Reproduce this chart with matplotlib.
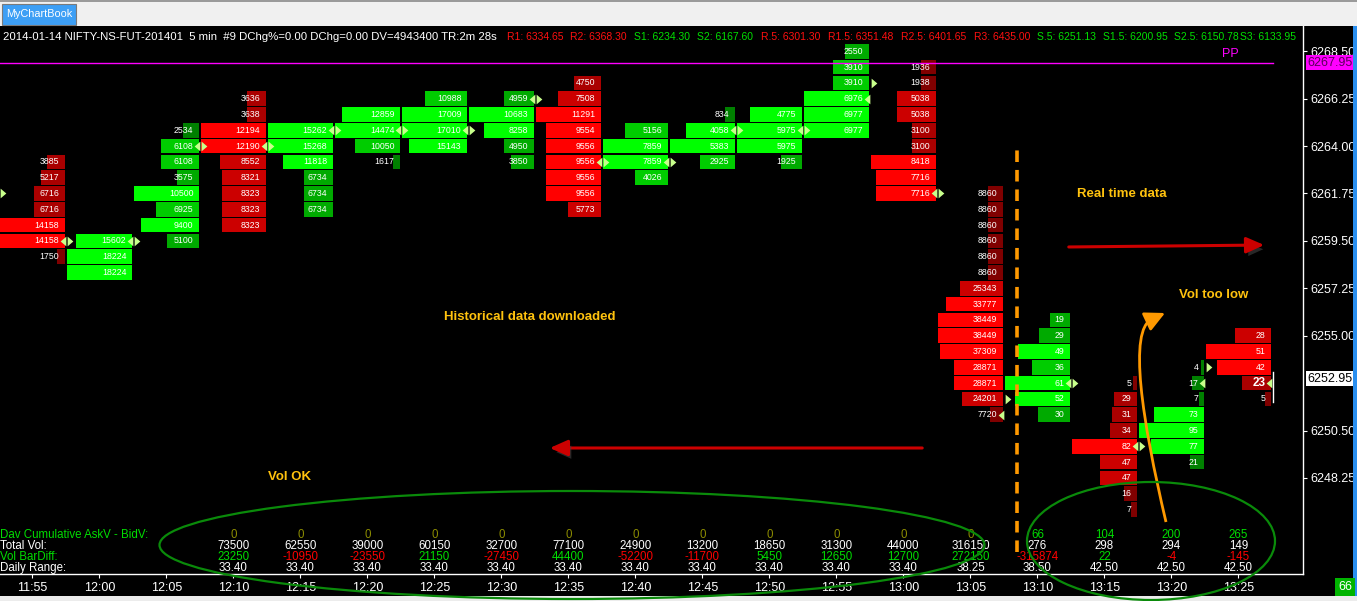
import matplotlib
matplotlib.use('Agg')
import matplotlib.pyplot as plt
import matplotlib.transforms as mtransforms
import matplotlib.patheffects as pe
from matplotlib.patches import Rectangle, Ellipse, FancyArrowPatch, PathPatch
from matplotlib.path import Path

W, H = 1357, 601
plt.rcParams['font.family'] = ['Liberation Sans', 'DejaVu Sans']

# ---- data -------------------------------------------------------------
times = ['11:55', '12:00', '12:05', '12:10', '12:15', '12:20', '12:25', '12:30',
         '12:35', '12:40', '12:45', '12:50', '12:55', '13:00', '13:05', '13:10',
         '13:15', '13:20', '13:25']
tick = 0.75  # price height of one footprint row

# price of the top row of each 5 min bar, volumes listed top to bottom
col_top = [6263.25, 6259.50, 6264.75, 6266.25, 6264.75, 6265.50, 6266.25, 6266.25,
           6267.00, 6264.75, 6265.50, 6265.50, 6268.50, 6267.75, 6261.75, 6255.75,
           6252.75, 6253.50, 6255.00]
col_vols = [
    [3885, 5217, 6716, 6716, 14158, 14158, 1750],
    [15602, 18224, 18224],
    [2534, 6108, 6108, 3575, 10500, 6925, 9400, 5100],
    [3636, 3638, 12194, 12190, 8552, 8321, 8323, 8323, 8323],
    [15262, 15268, 11818, 6734, 6734, 6734],
    [12859, 14474, 10050, 1617],
    [10988, 17009, 17010, 15143],
    [4959, 10683, 8258, 4950, 3850],
    [4750, 7508, 11291, 9554, 9556, 9556, 9556, 9556, 5773],
    [5156, 7859, 7859, 4026],
    [834, 4058, 5383, 2925],
    [4775, 5975, 5975, 1925],
    [2550, 3910, 3910, 6976, 6977, 6977],
    [1936, 1938, 5038, 5038, 3100, 3100, 8418, 7716, 7716],
    [8860, 8860, 8860, 8860, 8860, 8860, 25343, 33777, 38449, 38449, 37309,
     28871, 28871, 24201, 7720],
    [19, 29, 49, 36, 61, 52, 30],
    [5, 29, 31, 34, 82, 47, 47, 16, 7],
    [4, 17, 7, 73, 95, 77, 21],
    [28, 51, 42, 23, 5],
]
col_side = ['bid', 'ask', 'ask', 'bid', 'ask', 'ask', 'ask', 'ask', 'bid', 'ask',
            'ask', 'ask', 'ask', 'bid', 'bid', 'ask', 'bid', 'ask', 'bid']
open_px = [6261.75, 6259.50, 6259.50, 6264.00, 6264.00, 6264.75, 6264.75, 6264.75,
           6266.25, 6263.25, 6263.25, 6264.75, 6264.75, 6267.00, 6261.75, 6252.00,
           6252.75, 6249.75, 6253.50]
close_px = [6259.50, 6259.50, 6264.00, 6264.00, 6264.75, 6264.75, 6264.75, 6266.25,
            6263.25, 6263.25, 6264.75, 6264.75, 6266.25, 6261.75, 6251.25, 6252.75,
            6249.75, 6252.75, 6252.75]

pp = 6267.95
last_price = 6252.95
yticks = [6268.50, 6266.25, 6264.00, 6261.75, 6259.50, 6257.25, 6255.00, 6250.50, 6248.25]

# bottom table (bars 12:10 .. 13:25)
table_start = 3
dav_cum = [0, 0, 0, 0, 0, 0, 0, 0, 0, 0, 0, 0, 66, 104, 200, 265]
total_vol = [73500, 62550, 39000, 60150, 32700, 77100, 24900, 13200, 18650, 31300,
             44000, 316150, 276, 298, 294, 149]
bar_diff = [23250, -10950, -23550, 21150, -27450, 44400, -52200, -11700, 5450, 12650,
            12700, 272150, -315874, 22, -4, -145]
daily_range = ['33.40', '33.40', '33.40', '33.40', '33.40', '33.40', '33.40', '33.40',
               '33.40', '33.40', '33.40', '38.25', '38.50', '42.50', '42.50', '42.50']

header = '2014-01-14 NIFTY-NS-FUT-201401  5 min  #9 DChg%=0.00 DChg=0.00 DV=4943400 TR:2m 28s'
pivots = [('R1: 6334.65', 507), ('R2: 6368.30', 570), ('S1: 6234.30', 634),
          ('S2: 6167.60', 697), ('R.5: 6301.30', 761), ('R1.5: 6351.48', 828),
          ('R2.5: 6401.65', 901), ('R3: 6435.00', 974), ('S.5: 6251.13', 1037),
          ('S1.5: 6200.95', 1103), ('S2.5: 6150.78', 1174), ('S3: 6133.95', 1240)]

RED = ['#800000', '#aa0000', '#cc0000', '#ff0000']
GREEN = ['#008000', '#00aa00', '#00cc00', '#00ff00']


def shade(ratio, side):
    pal = RED if side == 'bid' else GREEN
    if ratio >= 0.72:
        return pal[3]
    if ratio >= 0.5:
        return pal[2]
    if ratio >= 0.25:
        return pal[1]
    return pal[0]


def fp(px, py):
    # pixel position -> figure fraction
    return px / W, 1 - py / H


# ---- figure -----------------------------------------------------------
fig = plt.figure(figsize=(W / 100, H / 100), dpi=100, facecolor='black')
ax = fig.add_axes([0, (H - 574) / H, 1303 / W, (574 - 26) / H])
ax.set_facecolor('black')
ax.set_xlim(0, 1303 / 67)
ax.set_ylim(6243.69, 6269.70)

R = 65 / 67  # right edge of a bar inside its slot
for c, vols in enumerate(col_vols):
    vmax = max(vols)
    prices = [col_top[c] - tick * i for i in range(len(vols))]
    widths = [v / vmax * R for v in vols]
    colors = [shade(v / vmax, col_side[c]) for v in vols]
    ax.barh(prices, widths, left=[c + R - w for w in widths], height=0.69,
            color=colors, linewidth=0)
    for p, v in zip(prices, vols):
        last = (c == len(col_vols) - 1 and p == close_px[c])
        ax.text(c + R - 0.085, p, str(v), ha='right', va='center', color='white',
                fontsize=8.5 if last else 6.3, fontweight='bold' if last else 'normal')
    ax.plot(c + R - 0.035, close_px[c], marker=[(1, 1.7), (1, -1.7), (-1, 0)],
            ms=7, color='#c8ff8c', mew=0)
    ax.plot(c + 0.045, open_px[c], marker=[(-1, 1.7), (-1, -1.7), (1, 0)],
            ms=7, color='#c8ff8c', mew=0)

# current bar marker
nlast = len(col_vols) - 1
ax.plot([nlast + 1.0, nlast + 1.0], [last_price - 1.1, last_price + 0.35],
        color='white', lw=1)

# PP line
ax.axhline(pp, xmin=0, xmax=1273 / 1303, color='#ff00ff', lw=1)
ax.text(1230 / 67, pp + 0.42, 'PP', color='#ff00ff', fontsize=9, ha='center', va='center')

# realtime separator
ax.axvline(1017 / 67, ymin=0.04, ymax=0.774, color='#ff9900', lw=2.6,
           linestyle=(0, (3.2, 2.2)))

# axes styling
for s in ['top', 'left']:
    ax.spines[s].set_visible(False)
for s in ['right', 'bottom']:
    ax.spines[s].set_color('white')
    ax.spines[s].set_linewidth(1)
ax.yaxis.tick_right()
ax.set_yticks(yticks)
ax.set_yticklabels(['%.2f' % t for t in yticks])
ax.set_xticks([c + 0.485 for c in range(len(times))])
ax.set_xticklabels(times)
ax.tick_params(axis='y', colors='white', length=3, pad=2, labelsize=9)
ax.tick_params(axis='x', colors='white', length=3, pad=3, labelsize=9)

ybox = mtransforms.blended_transform_factory(ax.transAxes, ax.transData)
ax.text(1.0035, pp, '%.2f' % pp, transform=ybox, ha='left', va='center', fontsize=9,
        color='#5a005a', bbox=dict(boxstyle='square,pad=0.12', fc='#ff00ff', ec='none'))
ax.text(1.0035, last_price, '%.2f' % last_price, transform=ybox, ha='left', va='center',
        fontsize=9, color='black',
        bbox=dict(boxstyle='square,pad=0.12', fc='white', ec='none'))

# bottom table
tb = mtransforms.blended_transform_factory(ax.transData, ax.transAxes)
rows_y = [0.0712, 0.0511, 0.0305, 0.0104]
labels = [('Dav Cumulative AskV - BidV:', '#00dd00'), ('Total Vol:', 'white'),
          ('Vol BarDiff:', '#00dd00'), ('Daily Range:', 'white')]
for (txt, col), y in zip(labels, rows_y):
    ax.text(0.0, y, txt, transform=ax.transAxes, ha='left', va='center',
            color=col, fontsize=8.3)
for i in range(len(total_vol)):
    x = table_start + i + 0.485
    ax.text(x, rows_y[0], str(dav_cum[i]), transform=tb, ha='center', va='center',
            fontsize=8.3, color='#8c8c00' if dav_cum[i] == 0 else '#00dd00')
    ax.text(x, rows_y[1], str(total_vol[i]), transform=tb, ha='center', va='center',
            fontsize=8.3, color='white')
    ax.text(x, rows_y[2], str(bar_diff[i]), transform=tb, ha='center', va='center',
            fontsize=8.3, color='#00dd00' if bar_diff[i] > 0 else '#ff0000')
    ax.text(x, rows_y[3], daily_range[i], transform=tb, ha='center', va='center',
            fontsize=8.3, color='white')

# ---- window chrome ----------------------------------------------------
fig.add_artist(Rectangle((0, 1 - 26 / H), 1, 26 / H, transform=fig.transFigure,
                         fc='#f0f0f0', ec='none'))
fig.add_artist(Rectangle((0, 1 - 2 / H), 1, 2 / H, transform=fig.transFigure,
                         fc='#9a9a9a', ec='none'))
fig.add_artist(Rectangle(fp(2, 25), 74 / W, 21 / H, transform=fig.transFigure,
                         fc='#3d9ff5', ec='#7a7a7a', lw=0.8))
fig.text(*fp(39, 14), 'MyChartBook', color='white', fontsize=7.8, ha='center', va='center')
fig.add_artist(Rectangle((0, 0), 1, 5 / H, transform=fig.transFigure,
                         fc='#ececec', ec='none'))
fig.add_artist(Rectangle(fp(1353, 596), 4 / W, 570 / H, transform=fig.transFigure,
                         fc='#2a8ff0', ec='none'))
fig.text(*fp(1345, 587), '66', color='white', fontsize=9, ha='center', va='center',
         bbox=dict(boxstyle='square,pad=0.25', fc='#00b400', ec='none'))

# header line
fig.text(*fp(3, 37), header, color='white', fontsize=8.2, ha='left', va='center')
for txt, x in pivots:
    fig.text(*fp(x, 37), txt, color='#ff1010' if txt[0] == 'R' else '#00e000',
             fontsize=7.5, ha='left', va='center')

# ---- annotations ------------------------------------------------------
gold = '#ffc20e'
for txt, x, y in [('Historical data downloaded', 530, 317), ('Real time data', 1122, 194),
                  ('Vol too low', 1214, 295), ('Vol OK', 290, 477)]:
    fig.text(*fp(x, y), txt, color=gold, fontsize=9.5, fontweight='bold',
             ha='center', va='center')

shadow = [pe.SimplePatchShadow(offset=(2, -3), shadow_rgbFace='#444444', alpha=0.6),
          pe.Normal()]
for a, b in [((925, 448), (547, 448)), ((1066, 247), (1267, 245))]:
    fig.add_artist(FancyArrowPatch(fp(*a), fp(*b), transform=fig.transFigure,
                                   arrowstyle='-|>,head_length=0.9,head_width=0.4',
                                   mutation_scale=12, color='#cc0000', lw=2.2,
                                   path_effects=shadow))

# orange hooked arrow: curved shaft plus a short head
curve = Path([fp(1166, 522), fp(1142, 420), fp(1128, 330), fp(1152, 319)],
             [Path.MOVETO, Path.CURVE4, Path.CURVE4, Path.CURVE4])
fig.add_artist(PathPatch(curve, transform=fig.transFigure, fill=False,
                         ec='#ff9900', lw=2))
fig.add_artist(FancyArrowPatch(fp(1148, 321), fp(1165, 313), transform=fig.transFigure,
                               arrowstyle='-|>,head_length=1.0,head_width=0.5',
                               mutation_scale=12, color='#ff9900', lw=2,
                               shrinkA=0, shrinkB=0))

for cx, cy, w, h in [(572, 545, 825, 108), (1151, 541, 248, 118)]:
    fig.add_artist(Ellipse(fp(cx, cy), w / W, h / H, transform=fig.transFigure,
                           fill=False, ec='#0a8a0a', lw=1.6))

fig.savefig('out.png', dpi=100, facecolor='black')
